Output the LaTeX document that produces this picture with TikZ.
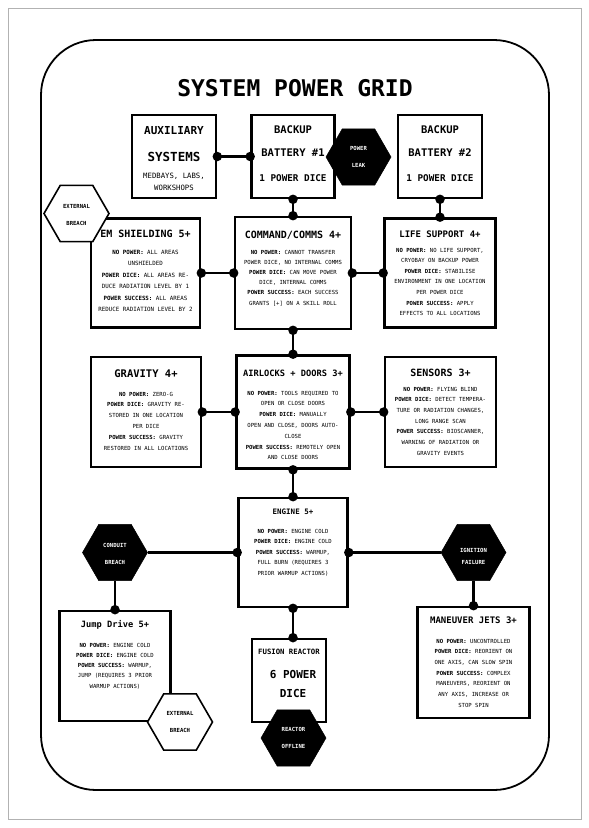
\documentclass[tikz,border=0pt]{standalone}
\usepackage{fontspec}
\setmainfont{DejaVu Sans}
\newfontfamily\mono{DejaVu Sans Mono}
\usetikzlibrary{shapes.geometric}
\begin{document}
\begin{tikzpicture}[x=1pt,y=-1pt,
  box/.style={draw, line width=2.6pt, fill=white, inner sep=0pt},
  wire/.style={line width=2.6pt},
  dot/.style={circle, fill=black, inner sep=0pt, minimum size=9.5pt},
  hexb/.style={regular polygon, regular polygon sides=6, minimum size=65pt, inner sep=0pt, fill=black, draw=black, line width=0.5pt},
  hexw/.style={regular polygon, regular polygon sides=6, minimum size=65pt, inner sep=0pt, fill=white, draw=black, line width=1.6pt},
  hextxt/.style={font=\mono\bfseries\fontsize{5.6}{17}\selectfont, align=center, inner sep=0pt},
  ttl/.style={font=\mono\bfseries\fontsize{10}{12}\selectfont, inner sep=0pt},
  body/.style={font=\mono\fontsize{5.6}{10.6}\selectfont, align=center, inner sep=0pt, anchor=north},
]
\useasboundingbox (0,0) rectangle (589,828);
\draw[gray!60, line width=0.6pt] (8,8) rectangle (581,819);
\draw[line width=1.8pt, rounded corners=55pt] (41,40) rectangle (549,790);
\node[font=\mono\bfseries\fontsize{23}{26}\selectfont, inner sep=0pt] (title) at (295,88) {SYSTEM POWER GRID};

% boxes
\node[box, minimum width=84pt, minimum height=83pt] (aux) at (174,156.5) {};
\node[box, minimum width=83pt, minimum height=83pt] (bat1) at (293,156.5) {};
\node[box, minimum width=84pt, minimum height=83pt] (bat2) at (440,156.5) {};
\node[box, minimum width=109pt, minimum height=109pt] (em) at (145.5,273) {};
\node[box, minimum width=116pt, minimum height=112pt] (cmd) at (293,273) {};
\node[box, minimum width=111pt, minimum height=109pt] (life) at (440,273) {};
\node[box, minimum width=110pt, minimum height=110pt] (grav) at (146,412) {};
\node[box, minimum width=113pt, minimum height=113pt] (air) at (293,412) {};
\node[box, minimum width=111pt, minimum height=110pt] (sens) at (440.5,412) {};
\node[box, minimum width=109pt, minimum height=109pt] (eng) at (293,552.5) {};
\node[box, minimum width=111pt, minimum height=110pt] (jump) at (115,666) {};
\node[box, minimum width=74pt, minimum height=83pt] (fus) at (289,680.5) {};
\node[box, minimum width=112pt, minimum height=111pt] (man) at (473.5,662.5) {};

% hexagon positions (drawn later)
\coordinate (leakc) at (358.5,157);
\coordinate (ext1c) at (76.5,213.5);
\coordinate (condc) at (115,552.5);
\coordinate (ignc) at (473.5,552.5);
\coordinate (ext2c) at (180,722);
\coordinate (offc) at (293.5,738);

% connectors
\draw[wire] (aux.east) -- (bat1.west);
\draw[wire] (bat1.south) -- (cmd.north);
\draw[wire] (bat2.south) -- (life.north);
\draw[wire] (em.east) -- (cmd.west);
\draw[wire] (cmd.east) -- (life.west);
\draw[wire] (cmd.south) -- (air.north);
\draw[wire] (grav.east) -- (air.west);
\draw[wire] (air.east) -- (sens.west);
\draw[wire] (air.south) -- (eng.north);
\coordinate (fustop) at (eng.south |- fus.north);
\draw[wire] (eng.south) -- (fustop);

\node[hexb] (cond) at (condc) {};
\node[hexb] (ign) at (ignc) {};
\draw[wire] (eng.west) -- (cond.east);
\draw[wire] (cond.south) -- (jump.north);
\draw[wire] (eng.east) -- (ign.west);
\draw[wire] (ign.south) -- (man.north);

% dots
\foreach \p in {aux.east, bat1.west, bat1.south, cmd.north, bat2.south, life.north,
  em.east, cmd.west, cmd.east, life.west, cmd.south, air.north, grav.east, air.west,
  air.east, sens.west, air.south, eng.north, eng.west, eng.east, jump.north, man.north,
  eng.south, fustop}
  \node[dot] at (\p) {};

% texts in boxes
\node[font=\mono\bfseries\fontsize{11}{13}\selectfont, inner sep=0pt] at (174,131) {AUXILIARY};
\node[font=\mono\bfseries\fontsize{12.5}{14}\selectfont, inner sep=0pt] at (174,157) {SYSTEMS};
\node[font=\mono\fontsize{7.3}{12}\selectfont, align=center, inner sep=0pt] at (174,182) {MEDBAYS, LABS,\\WORKSHOPS};

\node[font=\mono\bfseries\fontsize{10.5}{12}\selectfont, inner sep=0pt] at (293,130) {BACKUP};
\node[font=\mono\bfseries\fontsize{10.5}{12}\selectfont, inner sep=0pt] at (293,153) {BATTERY \#1};
\node[font=\mono\bfseries\fontsize{9.3}{11}\selectfont, inner sep=0pt] at (293,178) {1 POWER DICE};
\node[font=\mono\bfseries\fontsize{10.5}{12}\selectfont, inner sep=0pt] at (440,130) {BACKUP};
\node[font=\mono\bfseries\fontsize{10.5}{12}\selectfont, inner sep=0pt] at (440,153) {BATTERY \#2};
\node[font=\mono\bfseries\fontsize{9.3}{11}\selectfont, inner sep=0pt] at (440,178) {1 POWER DICE};

\node[ttl] at (145.5,234) {EM SHIELDING 5+};
\node[body, font=\mono\fontsize{5.8}{11.5}\selectfont] at (145.5,249.7) {\textbf{NO POWER:} ALL AREAS\\UNSHIELDED\\\textbf{POWER DICE:} ALL AREAS RE-\\DUCE RADIATION LEVEL BY 1\\\textbf{POWER SUCCESS:} ALL AREAS\\REDUCE RADIATION LEVEL BY 2};

\node[ttl] at (293,235) {COMMAND/COMMS 4+};
\node[body, font=\mono\fontsize{5.6}{10.2}\selectfont] at (293,249.7) {\textbf{NO POWER:} CANNOT TRANSFER\\POWER DICE, NO INTERNAL COMMS\\\textbf{POWER DICE:} CAN MOVE POWER\\DICE, INTERNAL COMMS\\\textbf{POWER SUCCESS:} EACH SUCCESS\\GRANTS [+] ON A SKILL ROLL};

\node[ttl, font=\mono\bfseries\fontsize{9}{11}\selectfont] at (440,234) {LIFE SUPPORT 4+};
\node[body] at (440,247.7) {\textbf{NO POWER:} NO LIFE SUPPORT,\\CRYOBAY ON BACKUP POWER\\\textbf{POWER DICE:} STABILISE\\ENVIRONMENT IN ONE LOCATION\\PER POWER DICE\\\textbf{POWER SUCCESS:} APPLY\\EFFECTS TO ALL LOCATIONS};

\node[ttl, font=\mono\bfseries\fontsize{10.5}{12}\selectfont] at (146,374) {GRAVITY 4+};
\node[body, font=\mono\fontsize{5.6}{10.8}\selectfont] at (146,391.7) {\textbf{NO POWER:} ZERO-G\\\textbf{POWER DICE:} GRAVITY RE-\\STORED IN ONE LOCATION\\PER DICE\\\textbf{POWER SUCCESS:} GRAVITY\\RESTORED IN ALL LOCATIONS};

\node[ttl, font=\mono\bfseries\fontsize{8.7}{11}\selectfont] at (293,373) {AIRLOCKS + DOORS 3+};
\node[body, font=\mono\fontsize{5.6}{10.8}\selectfont] at (293,390.7) {\textbf{NO POWER:} TOOLS REQUIRED TO\\OPEN OR CLOSE DOORS\\\textbf{POWER DICE:} MANUALLY\\OPEN AND CLOSE, DOORS AUTO-\\CLOSE\\\textbf{POWER SUCCESS:} REMOTELY OPEN\\AND CLOSE DOORS};

\node[ttl] at (440.5,373) {SENSORS 3+};
\node[body, font=\mono\fontsize{5.6}{10.7}\selectfont] at (440.5,386.7) {\textbf{NO POWER:} FLYING BLIND\\\textbf{POWER DICE:} DETECT TEMPERA-\\TURE OR RADIATION CHANGES,\\LONG RANGE SCAN\\\textbf{POWER SUCCESS:} BIOSCANNER,\\WARNING OF RADIATION OR\\GRAVITY EVENTS};

\node[ttl, font=\mono\bfseries\fontsize{7.5}{9}\selectfont] at (293,512) {ENGINE 5+};
\node[body, font=\mono\fontsize{5.6}{10.5}\selectfont] at (293,528.7) {\textbf{NO POWER:} ENGINE COLD\\\textbf{POWER DICE:} ENGINE COLD\\\textbf{POWER SUCCESS:} WARMUP,\\FULL BURN (REQUIRES 3\\PRIOR WARMUP ACTIONS)};

\node[ttl, font=\mono\bfseries\fontsize{8.7}{11}\selectfont, text depth=0pt] at (115,624) {Jump Drive 5+};
\node[body, font=\mono\fontsize{5.6}{10.3}\selectfont] at (115,642.7) {\textbf{NO POWER:} ENGINE COLD\\\textbf{POWER DICE:} ENGINE COLD\\\textbf{POWER SUCCESS:} WARMUP,\\JUMP (REQUIRES 3 PRIOR\\WARMUP ACTIONS)};

\node[font=\mono\bfseries\fontsize{7.3}{9}\selectfont, inner sep=0pt] at (289,652) {FUSION REACTOR};
\node[font=\mono\bfseries\fontsize{11}{19}\selectfont, align=center, inner sep=0pt] at (293,683.5) {6 POWER\\DICE};

\node[ttl, font=\mono\bfseries\fontsize{9}{11}\selectfont] at (473.5,620) {MANEUVER JETS 3+};
\node[body, font=\mono\fontsize{5.6}{10.7}\selectfont] at (473.5,638.7) {\textbf{NO POWER:} UNCONTROLLED\\\textbf{POWER DICE:} REORIENT ON\\ONE AXIS, CAN SLOW SPIN\\\textbf{POWER SUCCESS:} COMPLEX\\MANEUVERS, REORIENT ON\\ANY AXIS, INCREASE OR\\STOP SPIN};

% hexagons
\node[hexb] (leak) at (leakc) {};
\node[hextxt, text=white] at (leakc) {POWER\\LEAK};
\node[hexw] (ext1) at (ext1c) {};
\node[hextxt] at ([yshift=-1pt]ext1c) {EXTERNAL\\BREACH};
\node[hextxt, text=white] at ([yshift=-1pt]condc) {CONDUIT\\BREACH};
\node[hextxt, text=white, font=\mono\bfseries\fontsize{5.6}{12}\selectfont] at ([yshift=-3.5pt]ignc) {IGNITION\\FAILURE};
\node[hexw] (ext2) at (ext2c) {};
\node[hextxt] at (ext2c) {EXTERNAL\\BREACH};
\node[hexb] (off) at (offc) {};
\node[hextxt, text=white] at (offc) {REACTOR\\OFFLINE};
\end{tikzpicture}
\end{document}
